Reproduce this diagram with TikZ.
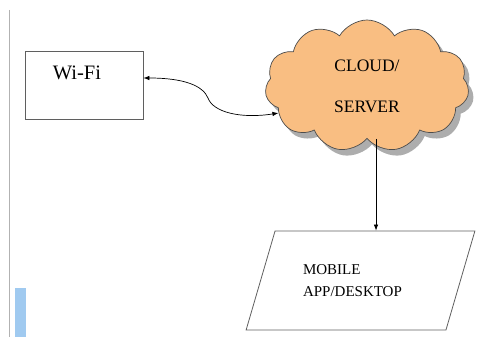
\documentclass[tikz,border=0pt]{standalone}
\usepackage{fontspec}
\setmainfont{Liberation Serif}
\usepackage{tikz}
\usetikzlibrary{arrows.meta, positioning, shapes.geometric, shapes.symbols, shadows, calc}
\definecolor{cloudorange}{RGB}{249,190,130}
\definecolor{barblue}{RGB}{160,202,240}
\definecolor{edgegray}{RGB}{95,95,95}

\begin{document}
\begin{tikzpicture}[x=1pt, y=-1pt,
    arr/.style={-{Latex[length=6pt,width=4.5pt]}, line width=0.7pt},
    box/.style={draw=edgegray, line width=0.8pt, minimum width=118pt, minimum height=68pt, inner sep=0pt}]
        \useasboundingbox (0,0) rectangle (478,337);
        % page margin
        \draw[gray!60, line width=0.8pt] (9,10) -- (9,337);
        \fill[barblue] (15,288) rectangle (26,337);

        \node[box] (wifi) at (84,85) {};
        \node[font=\fontsize{20.5}{22}\selectfont] (wifitext) at (77,73) {Wi-Fi};

        \node[cloud, cloud puffs=11, cloud puff arc=120, aspect=1.55, draw=black!70, line width=0.7pt,
              fill=cloudorange, minimum width=204pt, minimum height=132pt, inner sep=0pt,
              drop shadow={shadow xshift=5pt, shadow yshift=-6pt, fill=gray!75, opacity=0.85},
              align=center, font=\fontsize{17.5}{19}\selectfont] (cloud) at (367,86) {CLOUD/\\[22pt]SERVER};

        \node[trapezium, trapezium left angle=62, trapezium right angle=118, trapezium stretches=true,
              draw=edgegray, line width=0.8pt, minimum width=229pt, minimum height=99pt,
              text width=115pt, align=left, font=\fontsize{15}{22}\selectfont] (device) at (360.5,280.5) {MOBILE\\APP/DESKTOP};

        \draw[arr, {Latex[length=6pt,width=4.5pt]}-{Latex[length=6pt,width=4.5pt]}] ([yshift=7pt]wifi.east)
            .. controls (185,78) and (203,86) .. (208,98)
            .. controls (213,112) and (240,119) .. (cloud.197);
        \draw[arr] ([xshift=9pt]cloud.south) -- ([xshift=9pt]cloud.south |- device.north);
    \end{tikzpicture}
\end{document}
